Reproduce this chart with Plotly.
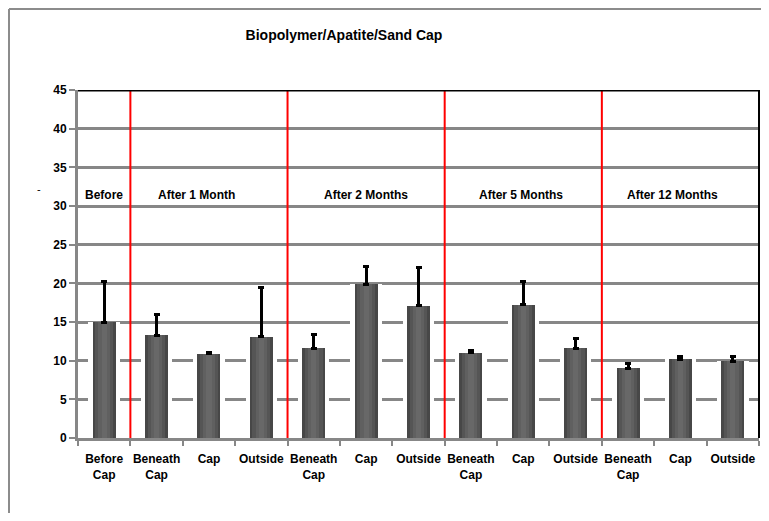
import plotly.graph_objects as go

# ---- data ----
categories = ["Before<br>Cap", "Beneath<br>Cap", "Cap", "Outside",
              "Beneath<br>Cap", "Cap", "Outside",
              "Beneath<br>Cap", "Cap", "Outside",
              "Beneath<br>Cap", "Cap", "Outside"]
means = [15.0, 13.3, 10.9, 13.1, 11.6, 19.9, 17.1, 11.0, 17.2, 11.6, 9.0, 10.2, 9.9]
err_plus = [5.3, 2.7, 0.2, 6.4, 1.8, 2.3, 5.0, 0.3, 3.0, 1.3, 0.6, 0.4, 0.7]
period_labels = ["Before", "After 1 Month", "After 2 Months", "After 5 Months", "After 12 Months"]
period_label_pos = [0.0, 1.77, 5.0, 7.95, 10.84]
period_breaks = [0.5, 3.5, 6.5, 9.5]
y_ticks = [0, 5, 10, 15, 20, 25, 30, 35, 40, 45]
title_text = "Biopolymer/Apatite/Sand Cap"

xs = list(range(len(categories)))

NARROW = "Liberation Sans Narrow, Arial Narrow, Liberation Sans, Arial, sans-serif"
ARIAL = "Liberation Sans, Arial, sans-serif"

# page body has an 8px margin: figure is sized so page fits the 769x521 window
W, H = 753, 505
L, T, R, B = 70, 82, 2, 75

fig = go.Figure()

# glow behind bars (covers gridlines near the bars)
fig.add_trace(go.Bar(x=xs, y=means, width=0.6, marker=dict(color="white", line=dict(width=0)),
                     hoverinfo="skip", showlegend=False))
# cylindrical-looking bars: layered shades
for w, c in [(0.44, "#474747"), (0.34, "#555555"), (0.22, "#606060"), (0.1, "#686868")]:
    fig.add_trace(go.Bar(x=xs, y=means, width=w, marker=dict(color=c, line=dict(width=0)),
                         showlegend=False, hoverinfo="skip"))
# error bars (upper only)
fig.add_trace(go.Bar(x=xs, y=means, width=0.1, marker=dict(color="rgba(0,0,0,0)", line=dict(width=0)),
                     error_y=dict(type="data", symmetric=False, array=err_plus,
                                  arrayminus=[0] * len(err_plus), color="black",
                                  thickness=3, width=3),
                     showlegend=False))

shapes = []
for b in period_breaks:
    shapes.append(dict(type="line", xref="x", yref="y", x0=b, x1=b, y0=-0.5, y1=45.5,
                       line=dict(color="#ff0000", width=2)))
# black top and right border of plot area
shapes.append(dict(type="line", xref="paper", yref="y", x0=0, x1=1, y0=45, y1=45,
                   line=dict(color="black", width=3)))
shapes.append(dict(type="line", xref="paper", yref="paper", x0=1, x1=1, y0=0, y1=1,
                   line=dict(color="black", width=2)))
# outer chart frame (left and top, partly cropped)
pw, ph = W - L - R, H - T - B
fx = (1 - L) / pw
fy = (H - B - 1) / ph
shapes.append(dict(type="line", xref="paper", yref="paper", x0=fx, x1=1.03, y0=fy, y1=fy,
                   line=dict(color="#8c8c8c", width=2)))
shapes.append(dict(type="line", xref="paper", yref="paper", x0=fx, x1=fx, y0=-0.3, y1=fy,
                   line=dict(color="#8c8c8c", width=2)))

annotations = []
for lab, pos in zip(period_labels, period_label_pos):
    annotations.append(dict(x=pos, y=31.4, xref="x", yref="y", text=lab, showarrow=False,
                            font=dict(family=ARIAL, size=12, color="black", weight="bold")))
annotations.append(dict(x=-0.063, y=0.7385, xref="paper", yref="paper", text="-", showarrow=False,
                        font=dict(family=ARIAL, size=11, color="black")))

fig.update_layout(
    width=W, height=H,
    margin=dict(l=L, r=R, t=T, b=B, autoexpand=False),
    paper_bgcolor="white", plot_bgcolor="white",
    barmode="overlay", bargap=0,
    title=dict(text=title_text, x=336 / W, xanchor="center", y=1 - 27 / H, yanchor="middle",
               font=dict(family=NARROW, size=14, color="black", weight="bold")),
    shapes=shapes, annotations=annotations,
    showlegend=False,
)

fig.update_xaxes(
    range=[-0.5, len(categories) - 0.5],
    tickvals=xs, ticktext=categories,
    ticks="", ticklabelstandoff=8,
    tickfont=dict(family=NARROW, size=12, color="black", weight="bold"),
    showline=True, linecolor="#878787", linewidth=3,
    showgrid=False, zeroline=False,
    minor=dict(ticks="outside", tick0=-0.5, dtick=1, ticklen=5, tickcolor="#878787", tickwidth=2,
               showgrid=False),
)
fig.update_yaxes(
    range=[0, 45], tickvals=y_ticks,
    ticks="outside", ticklen=6, tickcolor="#878787", tickwidth=2,
    tickfont=dict(family=ARIAL, size=12, color="black", weight="bold"),
    showline=True, linecolor="#878787", linewidth=3,
    showgrid=True, gridcolor="#878787", gridwidth=3,
    zeroline=False,
)

fig.write_html("out.html")
